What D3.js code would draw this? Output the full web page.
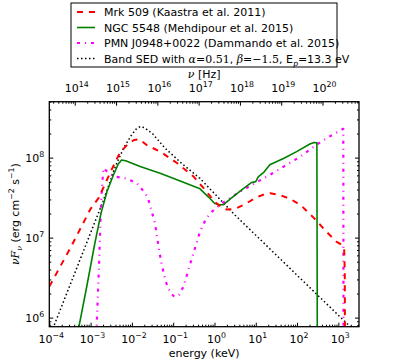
<!DOCTYPE html>
<html>
<head>
<meta charset="utf-8">
<script src="https://cdn.jsdelivr.net/npm/d3@7"></script>
<style>
  body { margin: 0; background: #fff; }
  text { font-family: "DejaVu Sans", sans-serif; }
</style>
</head>
<body>
<svg id="chart" width="399" height="363"></svg>
<script>
// ---------------- DATA (log10 values) ----------------
const seriesNames = [
  "Mrk 509 (Kaastra et al. 2011)",
  "NGC 5548 (Mehdipour et al. 2015)",
  "PMN J0948+0022 (Dammando et al. 2015)",
  "Band SED"
];

// Mrk 509 : log10(E/keV), log10(nuFnu)
const mrkLogE = [-4.0, -3.5, -3.0, -2.8, -2.5, -2.3, -2.1, -1.95, -1.82, -1.65, -1.3, -0.9, -0.5, -0.2, 0.0, 0.15, 0.3, 0.5, 0.75, 1.0, 1.2, 1.35, 1.6, 1.85, 2.1, 2.4, 2.7, 2.95, 3.08, 3.14, 3.155, 3.16];
const mrkLogF = [6.39, 6.86, 7.36, 7.50, 7.84, 8.05, 8.17, 8.22, 8.23, 8.16, 8.07, 7.93, 7.76, 7.58, 7.45, 7.39, 7.35, 7.36, 7.42, 7.50, 7.54, 7.555, 7.53, 7.48, 7.40, 7.25, 7.08, 6.95, 6.91, 6.86, 6.6, 5.8];

// NGC 5548
const ngcLogE = [-3.3, -3.1, -2.9, -2.75, -2.6, -2.45, -2.33, -2.25, -2.15, -1.8, -1.3, -0.8, -0.35, -0.15, 0.0, 0.1, 0.21, 0.4, 0.62, 0.9, 1.0, 1.06, 1.2, 1.34, 1.67, 1.99, 2.31, 2.41, 2.48, 2.49];
const ngcLogF = [5.84, 6.37, 6.92, 7.30, 7.58, 7.78, 7.92, 7.97, 7.96, 7.89, 7.80, 7.70, 7.61, 7.51, 7.43, 7.41, 7.41, 7.49, 7.58, 7.69, 7.70, 7.76, 7.82, 7.91, 7.99, 8.075, 8.17, 8.19, 8.185, 5.8];

// PMN J0948+0022
const pmnLogE = [-2.86, -2.80, -2.74, -2.69, -2.55, -2.37, -2.13, -1.88, -1.75, -1.62, -1.52, -1.44, -1.36, -1.28, -1.18, -1.07, -0.97, -0.85, -0.75, -0.6, -0.47, -0.35, -0.2, -0.05, 0.13, 0.45, 0.86, 1.34, 1.75, 2.07, 2.47, 2.72, 3.12, 3.125];
const pmnLogF = [5.8, 6.6, 7.5, 7.87, 7.80, 7.76, 7.74, 7.68, 7.60, 7.51, 7.33, 7.18, 6.90, 6.67, 6.45, 6.31, 6.26, 6.29, 6.39, 6.65, 6.87, 7.075, 7.24, 7.33, 7.41, 7.52, 7.645, 7.784, 7.91, 8.01, 8.16, 8.245, 8.36, 5.8];

// Band SED
const bandLogE = [-3.95, -3.5, -3.0, -2.7, -2.4, -2.2, -2.0, -1.9, -1.8, -1.7, -1.5, -1.2, -0.8, -0.35, 0.5, 1.5, 2.5, 3.5];
const bandLogF = [5.815, 6.404, 7.059, 7.452, 7.89, 8.12, 8.29, 8.355, 8.388, 8.375, 8.30, 8.12, 7.93, 7.74, 7.28, 6.78, 6.28, 5.78];

// axes
const energyTickExp = [-4, -3, -2, -1, 0, 1, 2, 3];
const nuTickExp = [14, 15, 16, 17, 18, 19, 20];
const fluxTickExp = [6, 7, 8];
const keVtoHz = 2.418e17;

// ---------------- LAYOUT ----------------
const svg = d3.select("#chart");
const L = 49.3, T = 101.7, R = 359, B = 326.7;
const W = R - L, H = B - T;
const FS = 11, SUP = 7.8;

const x = d3.scaleLog().domain([1e-4, Math.pow(10, 3.5)]).range([0, W]);
const xNu = d3.scaleLog().domain([1e-4 * keVtoHz, Math.pow(10, 3.5) * keVtoHz]).range([0, W]);
const y = d3.scaleLog().domain([7.7e5, 5e8]).range([H, 0]);

const g = svg.append("g").attr("transform", `translate(${L},${T})`);

svg.append("defs").append("clipPath").attr("id", "clip")
  .append("rect").attr("x", 0).attr("y", 0).attr("width", W).attr("height", H);

function minors(lo, hi) {
  const out = [];
  for (let e = Math.floor(Math.log10(lo)) - 1; e <= Math.ceil(Math.log10(hi)); e++) {
    for (let k = 2; k <= 9; k++) {
      const v = k * Math.pow(10, e);
      if (v >= lo && v <= hi) out.push(v);
    }
  }
  return out;
}

function styleAxis(sel) {
  sel.select(".domain").remove();
  sel.selectAll(".tick line").attr("stroke", "#000").attr("stroke-width", 1);
  sel.selectAll(".tick text").remove();
}

// bottom energy axis
const eMaj = energyTickExp.map(e => Math.pow(10, e));
g.append("g").attr("transform", `translate(0,${H})`)
  .call(d3.axisBottom(x).tickValues(eMaj).tickSize(-4).tickFormat(""))
  .call(styleAxis);
g.append("g").attr("transform", `translate(0,${H})`)
  .call(d3.axisBottom(x).tickValues(minors(...x.domain())).tickSize(-2).tickFormat(""))
  .call(styleAxis);

// top nu axis
const nMaj = nuTickExp.map(e => Math.pow(10, e));
g.append("g")
  .call(d3.axisTop(xNu).tickValues(nMaj).tickSize(-4).tickFormat(""))
  .call(styleAxis);
g.append("g")
  .call(d3.axisTop(xNu).tickValues(minors(...xNu.domain())).tickSize(-2).tickFormat(""))
  .call(styleAxis);

// left / right y axes
const yMaj = fluxTickExp.map(e => Math.pow(10, e));
g.append("g").call(d3.axisLeft(y).tickValues(yMaj).tickSize(-4).tickFormat("")).call(styleAxis);
g.append("g").call(d3.axisLeft(y).tickValues(minors(...y.domain())).tickSize(-2).tickFormat("")).call(styleAxis);
g.append("g").attr("transform", `translate(${W},0)`)
  .call(d3.axisRight(y).tickValues(yMaj).tickSize(-4).tickFormat("")).call(styleAxis);
g.append("g").attr("transform", `translate(${W},0)`)
  .call(d3.axisRight(y).tickValues(minors(...y.domain())).tickSize(-2).tickFormat("")).call(styleAxis);

// power-of-ten label helper
function powLabel(parent, px, py, exp, anchor) {
  const t = parent.append("text").attr("x", px).attr("y", py)
    .attr("text-anchor", anchor).attr("font-size", FS).attr("fill", "#000");
  t.append("tspan").text("10");
  t.append("tspan").attr("dy", -5).attr("font-size", SUP)
    .text(String(exp).replace("-", "\u2212"));
  return t;
}

energyTickExp.forEach(e => powLabel(g, x(Math.pow(10, e)) + 2, H + 16, e, "middle"));
nuTickExp.forEach(e => powLabel(g, xNu(Math.pow(10, e)) + 2, -10, e, "middle"));
fluxTickExp.forEach(e => powLabel(g, -5, y(Math.pow(10, e)) + 4, e, "end"));

// axis titles
g.append("text").attr("x", W / 2).attr("y", H + 30).attr("text-anchor", "middle")
  .attr("font-size", FS).text("energy (keV)");

const nuT = g.append("text").attr("x", W / 2).attr("y", -24).attr("text-anchor", "middle")
  .attr("font-size", FS);
nuT.append("tspan").attr("font-family", "DejaVu Serif").attr("font-style", "italic").text("\u03bd");
nuT.append("tspan").text(" [Hz]");

const yl = svg.append("text").attr("transform", `translate(19,${T + H / 2}) rotate(-90)`)
  .attr("text-anchor", "middle").attr("font-size", FS);
yl.append("tspan").attr("font-family", "DejaVu Serif").attr("font-style", "italic").text("\u03bdF");
yl.append("tspan").attr("font-family", "DejaVu Serif").attr("font-style", "italic")
  .attr("font-size", SUP).attr("dy", 3).text("\u03bd");
yl.append("tspan").attr("dy", -3).text(" (erg cm");
yl.append("tspan").attr("font-size", SUP).attr("dy", -5).text("\u22122");
yl.append("tspan").attr("dy", 5).text(" s");
yl.append("tspan").attr("font-size", SUP).attr("dy", -5).text("\u22121");
yl.append("tspan").attr("dy", 5).text(")");

// ---------------- LINES ----------------
const line = d3.line().x(d => x(d[0])).y(d => y(d[1]));
function pts(le, lf) { return le.map((v, i) => [Math.pow(10, v), Math.pow(10, lf[i])]); }

const series = [
  { e: bandLogE, f: bandLogF, color: "#000000", w: 1.5, dash: "1.5,2.5" },
  { e: pmnLogE, f: pmnLogF, color: "#ff00ff", w: 2.2, dash: "3,5,1,5" },
  { e: ngcLogE, f: ngcLogF, color: "#008000", w: 1.6, dash: null },
  { e: mrkLogE, f: mrkLogF, color: "#ff0000", w: 2, dash: "6,6" }
];
const plot = g.append("g").attr("clip-path", "url(#clip)");
series.forEach(s => {
  plot.append("path").datum(pts(s.e, s.f)).attr("d", line)
    .attr("fill", "none").attr("stroke", s.color).attr("stroke-width", s.w)
    .attr("stroke-dasharray", s.dash).attr("stroke-linejoin", "round");
});

// frame
g.append("rect").attr("x", 0).attr("y", 0).attr("width", W).attr("height", H)
  .attr("fill", "none").attr("stroke", "#000").attr("stroke-width", 1.3);

// ---------------- LEGEND ----------------
const lg = svg.append("g");
lg.append("rect").attr("x", 71).attr("y", 3).attr("width", 266).attr("height", 64)
  .attr("fill", "#fff").attr("stroke", "#000").attr("stroke-width", 1);
const legItems = [
  { color: "#ff0000", w: 2, dash: "6,6" },
  { color: "#008000", w: 1.6, dash: null },
  { color: "#ff00ff", w: 2.2, dash: "3,5,1,5" },
  { color: "#000000", w: 1.5, dash: "1.5,2.5" }
];
const rowY = [12, 27.5, 43, 58.5];
legItems.forEach((it, i) => {
  lg.append("line").attr("x1", 77).attr("x2", 95).attr("y1", rowY[i]).attr("y2", rowY[i])
    .attr("stroke", it.color).attr("stroke-width", it.w).attr("stroke-dasharray", it.dash);
  if (i < 3) {
    lg.append("text").attr("x", 104).attr("y", rowY[i] + 4).attr("font-size", FS).text(seriesNames[i]);
  }
});
const bt = lg.append("text").attr("x", 104).attr("y", rowY[3] + 4).attr("font-size", FS);
bt.append("tspan").text("Band SED with ");
bt.append("tspan").attr("font-family", "DejaVu Serif").attr("font-style", "italic").text("\u03b1");
bt.append("tspan").attr("font-family", "DejaVu Serif").text("=0.51");
bt.append("tspan").text(", ");
bt.append("tspan").attr("font-family", "DejaVu Serif").attr("font-style", "italic").text("\u03b2");
bt.append("tspan").attr("font-family", "DejaVu Serif").text("=\u22121.5");
bt.append("tspan").text(", E");
bt.append("tspan").attr("font-family", "DejaVu Serif").attr("font-style", "italic")
  .attr("font-size", SUP).attr("dy", 3).text("p");
bt.append("tspan").attr("dy", -3).text("=13.3 eV");
</script>
</body>
</html>
